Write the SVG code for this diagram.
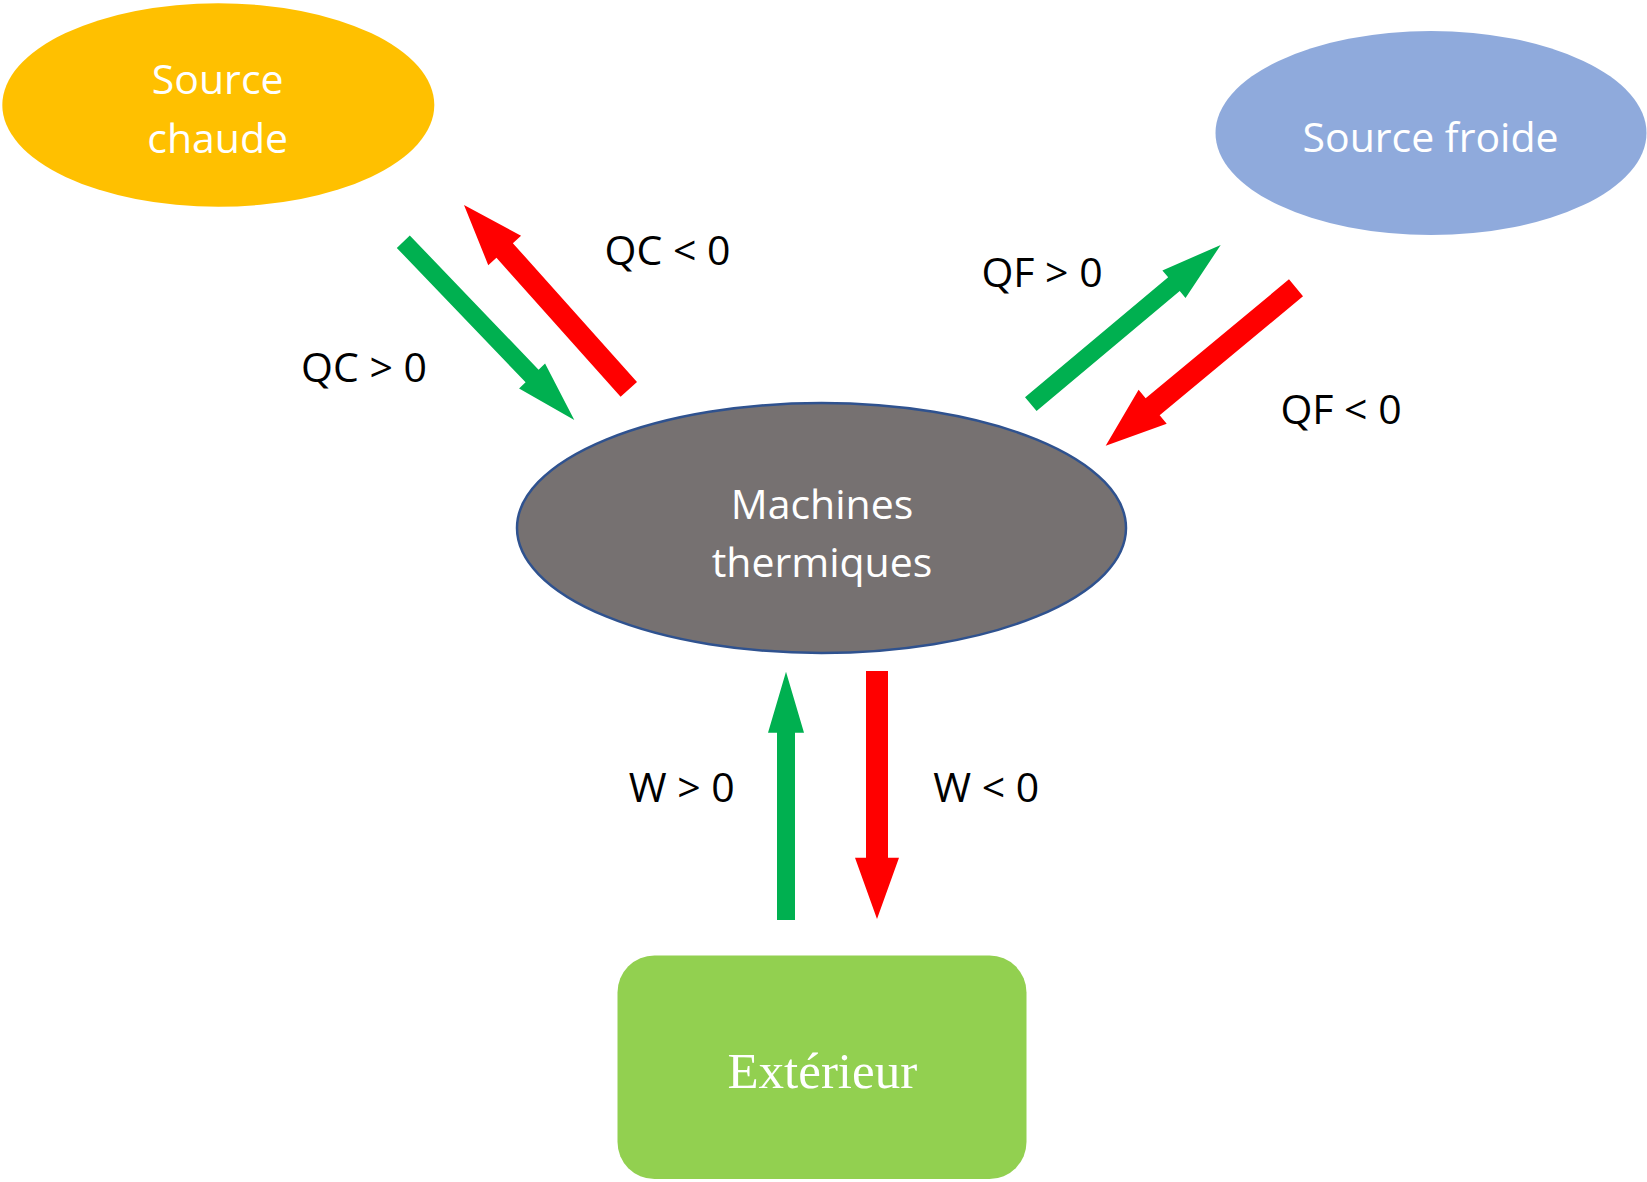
<svg xmlns="http://www.w3.org/2000/svg" width="1647" height="1182" viewBox="0 0 1647 1182">
<style>
.node-text{font-family:"Open Sans","Noto Sans","Liberation Sans",sans-serif;font-size:41px;fill:#FFFFFF;text-anchor:middle}
.serif-text{font-family:"Liberation Serif","DejaVu Serif",serif;font-size:51px;fill:#FFFFFF;text-anchor:middle}
.label{font-family:"Open Sans","Noto Sans","Liberation Sans",sans-serif;font-size:41px;fill:#000000;text-anchor:middle}
.pos{fill:#00B050}
.neg{fill:#FF0000}
</style>
<rect width="1647" height="1182" fill="#FFFFFF"/>
<g id="source-chaude">
<ellipse cx="218.3" cy="105" rx="216" ry="101.7" fill="#FFC000"/>
<text class="node-text" x="217.7" y="94.3">Source</text>
<text class="node-text" x="217.7" y="153.3">chaude</text>
</g>
<g id="source-froide">
<ellipse cx="1431" cy="133" rx="215.5" ry="102" fill="#8FAADC"/>
<text class="node-text" x="1430.5" y="152">Source froide</text>
</g>
<g id="machines">
<ellipse cx="821.5" cy="528" rx="304.5" ry="125" fill="#767171" stroke="#2F528F" stroke-width="2.5"/>
<text class="node-text" x="822" y="519">Machines</text>
<text class="node-text" x="822" y="577">thermiques</text>
</g>
<g id="exterieur">
<rect x="617.5" y="955.5" width="409" height="223.5" rx="37" ry="37" fill="#92D050"/>
<text class="serif-text" x="822.3" y="1088">Extérieur</text>
</g>
<g id="connectors">
<polygon class="pos" points="396.8,247.93 525.58,382.21 519.09,388.44 574.3,420 545.07,363.52 538.58,369.75 409.8,235.47"/>
<polygon class="neg" points="637,381.97 512.86,243.14 521.06,235.8 464,205 488.26,265.14 496.46,257.8 620.6,396.63"/>
<polygon class="pos" points="1036.58,411.1 1179.73,291.09 1185.52,297.98 1220.7,245 1162.38,270.4 1168.17,277.29 1025.02,397.3"/>
<polygon class="neg" points="1288.98,279.33 1145.63,398.28 1138.6,389.82 1105.7,445.7 1166.7,423.68 1159.67,415.22 1303.02,296.27"/>
<polygon class="pos" points="777,920 777,732.7 768,732.7 786,671.7 804,732.7 795,732.7 795,920"/>
<polygon class="neg" points="866,671 888,671 888,857.7 899,857.7 877,919 855,857.7 866,857.7"/>
</g>
<g id="labels">
<text class="label" x="364" y="382">QC &gt; 0</text>
<text class="label" x="667.5" y="265">QC &lt; 0</text>
<text class="label" x="1042" y="287">QF &gt; 0</text>
<text class="label" x="1341" y="424">QF &lt; 0</text>
<text class="label" x="681.7" y="802">W &gt; 0</text>
<text class="label" x="986.3" y="802">W &lt; 0</text>
</g>
</svg>
